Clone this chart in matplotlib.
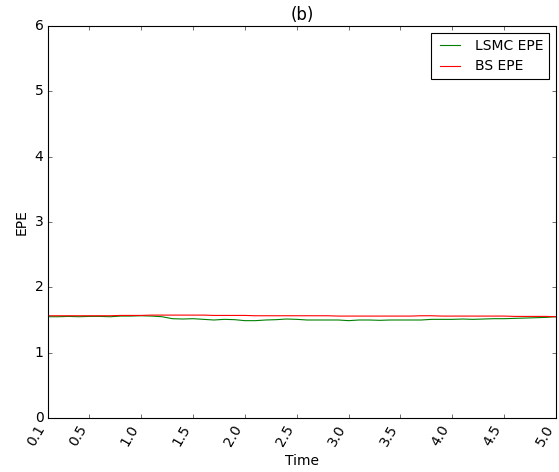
import matplotlib
matplotlib.use("Agg")
import matplotlib.pyplot as plt

# Time grid and expected positive exposure
time = [0.1, 0.2, 0.3, 0.4, 0.5, 0.6, 0.7, 0.8, 0.9, 1.0,
        1.1, 1.2, 1.3, 1.4, 1.5, 1.6, 1.7, 1.8, 1.9, 2.0,
        2.1, 2.2, 2.3, 2.4, 2.5, 2.6, 2.7, 2.8, 2.9, 3.0,
        3.1, 3.2, 3.3, 3.4, 3.5, 3.6, 3.7, 3.8, 3.9, 4.0,
        4.1, 4.2, 4.3, 4.4, 4.5, 4.6, 4.7, 4.8, 4.9, 5.0]
lsmc_epe = [1.550, 1.550, 1.555, 1.550, 1.555, 1.555, 1.550, 1.560, 1.560, 1.565,
            1.560, 1.550, 1.520, 1.515, 1.520, 1.510, 1.500, 1.510, 1.505, 1.490,
            1.490, 1.500, 1.505, 1.515, 1.510, 1.500, 1.500, 1.500, 1.500, 1.490,
            1.500, 1.500, 1.495, 1.500, 1.500, 1.500, 1.500, 1.510, 1.510, 1.510,
            1.515, 1.510, 1.515, 1.520, 1.520, 1.525, 1.530, 1.535, 1.540, 1.550]
bs_epe = [1.565, 1.565, 1.565, 1.565, 1.565, 1.565, 1.565, 1.570, 1.570, 1.570,
          1.575, 1.575, 1.575, 1.575, 1.575, 1.575, 1.570, 1.570, 1.570, 1.570,
          1.565, 1.565, 1.565, 1.565, 1.565, 1.565, 1.565, 1.565, 1.560, 1.560,
          1.560, 1.560, 1.560, 1.560, 1.560, 1.560, 1.565, 1.565, 1.560, 1.560,
          1.560, 1.560, 1.560, 1.560, 1.560, 1.555, 1.555, 1.555, 1.555, 1.550]
xticks = [0.1, 0.5, 1.0, 1.5, 2.0, 2.5, 3.0, 3.5, 4.0, 4.5, 5.0]

plt.style.use("classic")
plt.rcParams["font.family"] = ["DejaVu Sans"]
plt.rcParams["font.size"] = 12.5

fig = plt.figure(figsize=(559 / 80, 472 / 80), dpi=80, facecolor="white")
ax = fig.add_axes([48 / 559, 54 / 472, 508 / 559, 392 / 472])

ax.plot(time, lsmc_epe, color="g", label="LSMC EPE")
ax.plot(time, bs_epe, color="r", label="BS EPE")

ax.set_xlim(0.1, 5.0)
ax.set_ylim(0, 6)
ax.set_xticks(xticks)
ax.set_xticklabels([f"{t:.1f}" for t in xticks], rotation=60, ha="right")
ax.set_xlabel("Time")
ax.set_ylabel("EPE")
ax.set_title("(b)")
ax.legend(loc="upper right", fontsize=12.5)

fig.savefig("out.png", dpi=80, facecolor="white")
